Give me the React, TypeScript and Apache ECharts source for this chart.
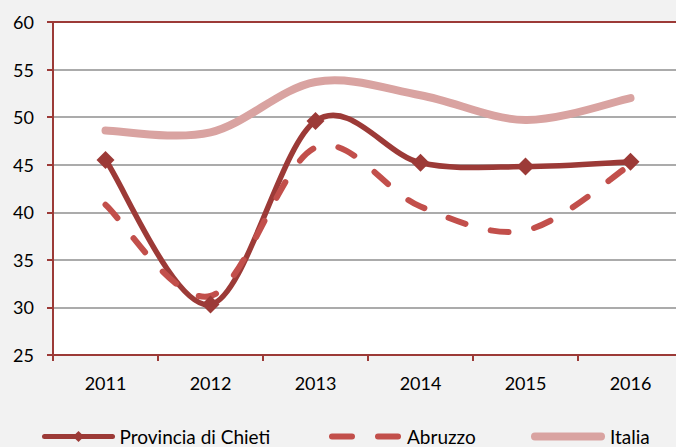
import React, { useEffect, useRef } from "react";
import * as echarts from "echarts";

const categories = ["2011", "2012", "2013", "2014", "2015", "2016"];
const chieti = [45.5, 30.3, 49.6, 45.2, 44.8, 45.3];
const abruzzo = [40.8, 31.2, 46.8, 40.6, 38.1, 45.0];
const italia = [48.6, 48.4, 53.7, 52.3, 49.7, 52.0];
const seriesNames = ["Provincia di Chieti", "Abruzzo", "Italia"];

const DARK = "#9c3a37";
const MID = "#c24f4b";
const LIGHT = "#d9a3a1";
const FONT = "Lato";

// Excel-like smoothed curve (Catmull-Rom to cubic Bezier) in pixel space
function bezierPath(pts: number[][]): string {
  let d = `M${pts[0][0]},${pts[0][1]}`;
  for (let i = 0; i < pts.length - 1; i++) {
    const p0 = pts[Math.max(i - 1, 0)];
    const p1 = pts[i];
    const p2 = pts[i + 1];
    const p3 = pts[Math.min(i + 2, pts.length - 1)];
    const c1x = p1[0] + (p2[0] - p0[0]) / 6;
    const c1y = p1[1] + (p2[1] - p0[1]) / 6;
    const c2x = p2[0] - (p3[0] - p1[0]) / 6;
    const c2y = p2[1] - (p3[1] - p1[1]) / 6;
    d += ` C${c1x},${c1y} ${c2x},${c2y} ${p2[0]},${p2[1]}`;
  }
  return d;
}

function curveSeries(values: number[], style: any, z: number) {
  return {
    type: "custom",
    name: "curve-" + z,
    data: [[0, values[0]]],
    encode: { x: 0, y: 1 },
    silent: true,
    clip: false,
    z,
    renderItem: (params: any, api: any) => {
      const pts = values.map((v, i) => api.coord([i, v]));
      return {
        type: "path",
        shape: { pathData: bezierPath(pts) },
        style: { fill: "none", ...style },
      };
    },
  };
}

export default function App() {
  const ref = useRef<HTMLDivElement>(null);
  useEffect(() => {
    if (!ref.current) return;
    const chart = echarts.init(ref.current, null, { renderer: "svg" });
    const legendBase = {
      orient: "horizontal",
      top: 427,
      itemHeight: 14,
      itemGap: 5,
      padding: 0,
    };
    const legendText = (pad: number) => ({
      fontSize: 19,
      color: "#000",
      fontFamily: FONT,
      padding: [0, 0, 0, pad],
    });
    chart.setOption({
      animation: false,
      backgroundColor: "#f2f2f2",
      textStyle: { fontFamily: FONT },
      grid: {
        left: 53,
        right: 0,
        top: 22,
        bottom: 92,
        show: true,
        backgroundColor: "#ffffff",
        borderColor: DARK,
        borderWidth: 2,
      },
      legend: [
        {
          ...legendBase,
          left: 42,
          itemWidth: 68,
          data: [seriesNames[0]],
          textStyle: legendText(2),
          lineStyle: { color: DARK, width: 5, opacity: 1, type: "solid", cap: "round" },
          itemStyle: { color: DARK, opacity: 1 },
        },
        {
          ...legendBase,
          left: 329,
          itemWidth: 66,
          data: [seriesNames[1]],
          textStyle: legendText(4),
          lineStyle: { color: MID, width: 6, opacity: 1, type: [20, 26], cap: "round" },
          itemStyle: { opacity: 0 },
        },
        {
          ...legendBase,
          left: 531,
          itemWidth: 66,
          data: [seriesNames[2]],
          textStyle: legendText(4),
          lineStyle: { color: LIGHT, width: 8, opacity: 1, type: "solid", cap: "round" },
          itemStyle: { opacity: 0 },
        },
      ],
      xAxis: {
        type: "category",
        data: categories,
        boundaryGap: true,
        axisLine: { lineStyle: { color: DARK, width: 2 } },
        axisTick: { show: true, length: 6, lineStyle: { color: DARK, width: 2 } },
        axisLabel: { fontSize: 18, color: "#000", margin: 19, fontFamily: FONT },
        splitLine: { show: false },
      },
      yAxis: {
        type: "value",
        min: 25,
        max: 60,
        interval: 5,
        axisLine: { show: true, lineStyle: { color: DARK, width: 2 } },
        axisTick: { show: true, length: 6, lineStyle: { color: DARK, width: 2 } },
        axisLabel: { fontSize: 18, color: "#000", margin: 19, fontFamily: FONT },
        splitLine: {
          show: true,
          showMinLine: false,
          showMaxLine: false,
          lineStyle: { color: "#8f8f8f", width: 1.5 },
        },
      },
      series: [
        {
          name: seriesNames[0],
          type: "line",
          data: chieti,
          symbol: "diamond",
          symbolSize: 18,
          itemStyle: { color: DARK },
          lineStyle: { color: DARK, width: 5, opacity: 0 },
          z: 6,
        },
        {
          name: seriesNames[1],
          type: "line",
          data: abruzzo,
          symbol: "none",
          itemStyle: { color: MID },
          lineStyle: { color: MID, width: 6, opacity: 0 },
          z: 1,
        },
        {
          name: seriesNames[2],
          type: "line",
          data: italia,
          symbol: "none",
          itemStyle: { color: LIGHT },
          lineStyle: { color: LIGHT, width: 8, opacity: 0 },
          z: 1,
        },
        curveSeries(chieti, { stroke: DARK, lineWidth: 5.5, lineCap: "round", lineJoin: "round" }, 4),
        curveSeries(abruzzo, { stroke: MID, lineWidth: 6, lineCap: "round", lineDash: [18, 26] }, 5),
        curveSeries(italia, { stroke: LIGHT, lineWidth: 8, lineCap: "round" }, 3),
      ],
    });
    return () => chart.dispose();
  }, []);
  return (
    <div
      style={{ position: "fixed", left: 0, top: 0, width: 676, height: 447, overflow: "hidden" }}
    >
      <div ref={ref} style={{ width: 683, height: 447 }} />
    </div>
  );
}
